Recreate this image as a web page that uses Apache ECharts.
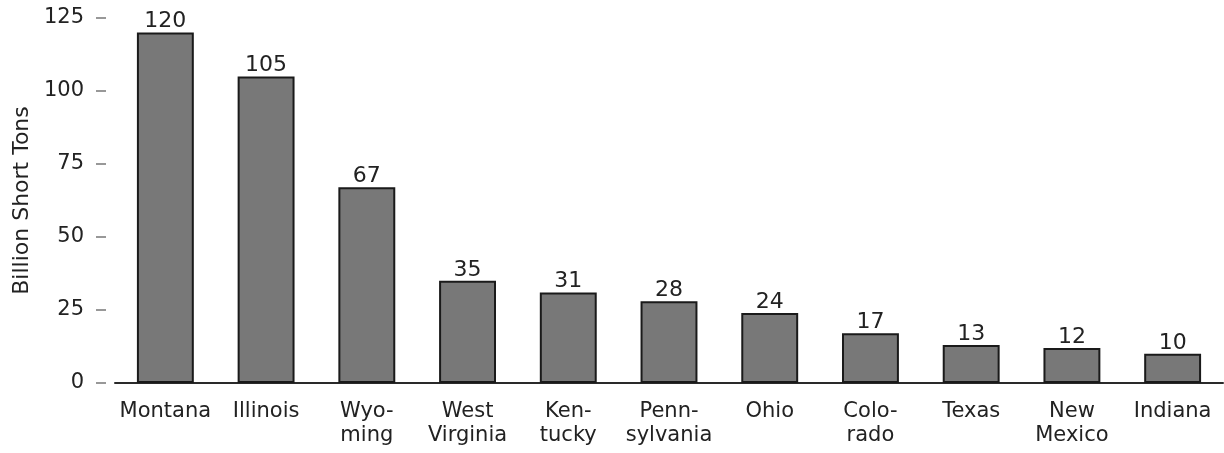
<!DOCTYPE html>
<html>
<head>
<meta charset="utf-8">
<script src="https://cdn.jsdelivr.net/npm/echarts@6/dist/echarts.min.js"></script>
<style>
  html, body { margin: 0; padding: 0; background: #ffffff; }
  #chart { width: 1224px; height: 453px; }
</style>
</head>
<body>
<div id="chart"></div>
<script>
// Coal reserves by state
const states = ['Montana', 'Illinois', 'Wyo-\nming', 'West\nVirginia', 'Ken-\ntucky', 'Penn-\nsylvania', 'Ohio', 'Colo-\nrado', 'Texas', 'New\nMexico', 'Indiana'];
const reserves = [120, 105, 67, 35, 31, 28, 24, 17, 13, 12, 10];
const yTicks = [0, 25, 50, 75, 100, 125];

const font = '"DejaVu Sans", Verdana, sans-serif';
const ink = '#222222';

const chart = echarts.init(document.getElementById('chart'), null, { renderer: 'canvas' });
chart.setOption({
  animation: false,
  backgroundColor: '#ffffff',
  grid: { left: 115, right: 1, top: 18, bottom: 70, containLabel: false },
  xAxis: {
    type: 'category',
    data: states,
    boundaryGap: true,
    axisLine: { show: true, lineStyle: { color: '#2a2a2a', width: 2 } },
    axisTick: { show: false },
    axisLabel: {
      margin: 17,
      color: ink,
      fontFamily: font,
      fontSize: 21,
      lineHeight: 24,
      interval: 0
    }
  },
  yAxis: {
    type: 'value',
    min: yTicks[0],
    max: yTicks[yTicks.length - 1],
    interval: 25,
    offset: 9,
    name: 'Billion Short Tons',
    nameLocation: 'middle',
    nameGap: 69,
    nameRotate: 90,
    nameTextStyle: { color: ink, fontFamily: font, fontSize: 22 },
    axisLine: { show: false },
    axisTick: { show: true, length: 10, lineStyle: { color: '#777', width: 1.5 } },
    splitLine: { show: false },
    axisLabel: {
      margin: 22,
      color: ink,
      fontFamily: font,
      fontSize: 21
    }
  },
  series: [{
    type: 'bar',
    data: reserves,
    barWidth: '56.5%',
    itemStyle: { color: '#787878', borderColor: '#1a1a1a', borderWidth: 2 },
    label: {
      show: true,
      position: 'top',
      distance: 0,
      color: ink,
      fontFamily: font,
      fontSize: 22
    }
  }]
});
</script>
</body>
</html>
